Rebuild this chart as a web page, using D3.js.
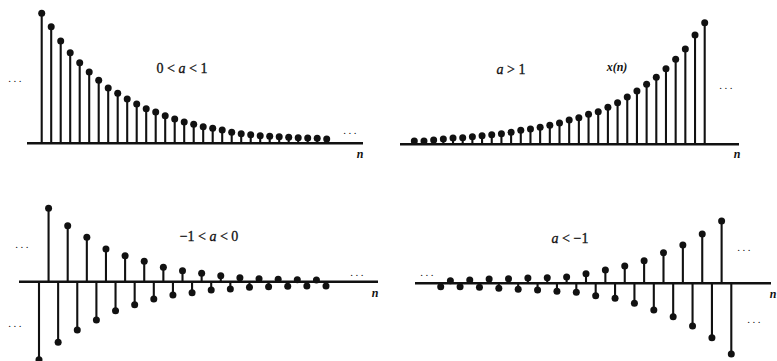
<!DOCTYPE html>
<html>
<head>
<meta charset="utf-8">
<script src="https://cdn.jsdelivr.net/npm/d3@7"></script>
<style>
  html, body { margin: 0; padding: 0; background: #fff; }
  svg text { font-family: "Liberation Serif", "Times New Roman", serif; fill: #111; }
</style>
</head>
<body>
<div id="chart"></div>
<script>
// sample index n for each stem (31 samples per panel)
const n = d3.range(31);

// 0 < a < 1 : decaying
const decayVals = [130, 116.6, 102.3, 90.6, 80.6, 71.3, 63, 55.3, 50, 44.3, 39.3, 34.6, 31.3, 27.6, 24.3,
  21.3, 19, 16.6, 15, 13.3, 11, 9.6, 8.6, 7.6, 7, 6.6, 6, 5.6, 5.3, 5, 4.3];
// a > 1 : growing
const growVals = [3.3, 3.3, 4.3, 5.3, 6.3, 6.6, 7.6, 8.6, 9.6, 10.6, 12, 14, 15.3, 17, 19, 21.3, 24.3,
  26.5, 30, 32.6, 37, 41.6, 47.3, 53.3, 60, 67, 75.6, 85, 95.3, 109.3, 121.6];
// -1 < a < 0 : alternating, decaying
const altDecayVals = [-78, 73.4, -60.6, 56, -48.3, 44.4, -38.3, 32.7, -29, 26, -23, 20.4, -17.3, 14.4, -13.3,
  11, -11, 8.4, -8.3, 6, -7.3, 4, -5.6, 3, -5, 2.4, -4.6, 2, -4.3, 1.7, -4.3];
// a < -1 : alternating, growing
const altGrowVals = [-3.4, 2.6, -3.4, 3.3, -4, 4.3, -5, 4.6, -6, 5.3, -6.7, 5.6, -8, 6.3, -9, 9.6, -12.4,
  13.3, -15, 17.3, -20, 22.6, -26.7, 30.6, -33.4, 38.3, -42.7, 49.3, -54.4, 62.3, -70.7];

const width = 777, height = 361;

const svg = d3.select("#chart").append("svg")
  .attr("width", width)
  .attr("height", height);

// panel layout: stem range, axis line extent, zero line y
const panels = [
  { vals: decayVals, stems: [41.7, 326.7], axis: [27, 363], y0: 143.3,
    label: [["0 < ", false], ["a", true], [" < 1", false]], labelPos: [182, 73],
    dots: [[16, 82], [351, 134]], nPos: [360, 158] },
  { vals: growVals, stems: [414.3, 704.7], axis: [400, 739], y0: 144.3,
    label: [["a", true], [" > 1", false]], labelPos: [511, 74],
    extra: { text: "x(n)", pos: [617, 71] },
    dots: [[727, 89]], nPos: [737, 158] },
  { vals: altDecayVals, stems: [39, 326], axis: [19, 378], y0: 281.7,
    label: [["\u22121 < ", false], ["a", true], [" < 0", false]], labelPos: [209, 241],
    dots: [[23, 248], [16, 327], [358, 276]], nPos: [375, 297] },
  { vals: altGrowVals, stems: [440.7, 731.3], axis: [415, 771], y0: 283.3,
    label: [["a", true], [" < \u22121", false]], labelPos: [570, 243],
    dots: [[428, 276], [745, 251], [755, 323]], nPos: [773, 298] }
];

panels.forEach(p => {
  const x = d3.scaleLinear().domain([0, n.length - 1]).range(p.stems);
  const y = d3.scaleLinear().domain([0, 100]).range([p.y0, p.y0 - 100]);
  const g = svg.append("g");

  // zero line
  g.append("path")
    .attr("d", d3.line()([[p.axis[0], y(0)], [p.axis[1], y(0)]]))
    .attr("stroke", "#111")
    .attr("stroke-width", 2.4);

  const stems = g.selectAll("g.stem")
    .data(n.map(i => ({ n: i, v: p.vals[i] })))
    .enter().append("g")
    .attr("class", "stem");

  stems.append("line")
    .attr("x1", d => x(d.n))
    .attr("x2", d => x(d.n))
    .attr("y1", y(0))
    .attr("y2", d => y(d.v))
    .attr("stroke", "#111")
    .attr("stroke-width", 2.1);

  stems.append("circle")
    .attr("cx", d => x(d.n))
    .attr("cy", d => y(d.v))
    .attr("r", 3.5)
    .attr("fill", "#111");

  // case label
  const t = g.append("text")
    .attr("x", p.labelPos[0])
    .attr("y", p.labelPos[1])
    .attr("text-anchor", "middle")
    .attr("font-size", 14)
    .attr("stroke", "#111")
    .attr("stroke-width", 0.3);
  p.label.forEach(([s, it]) => {
    t.append("tspan").text(s).attr("font-style", it ? "italic" : "normal");
  });

  if (p.extra) {
    g.append("text")
      .attr("x", p.extra.pos[0])
      .attr("y", p.extra.pos[1])
      .attr("text-anchor", "middle")
      .attr("font-size", 12)
      .attr("font-style", "italic")
      .attr("font-weight", "bold")
      .text(p.extra.text);
  }

  // continuation dots
  p.dots.forEach(([dx, dy]) => {
    g.append("text")
      .attr("x", dx)
      .attr("y", dy)
      .attr("text-anchor", "middle")
      .attr("font-size", 11)
      .attr("letter-spacing", "2.5px")
      .text("...");
  });

  // n axis label
  g.append("text")
    .attr("x", p.nPos[0])
    .attr("y", p.nPos[1])
    .attr("text-anchor", "middle")
    .attr("font-size", 12)
    .attr("font-style", "italic")
    .attr("font-weight", "bold")
    .text("n");
});
</script>
</body>
</html>
